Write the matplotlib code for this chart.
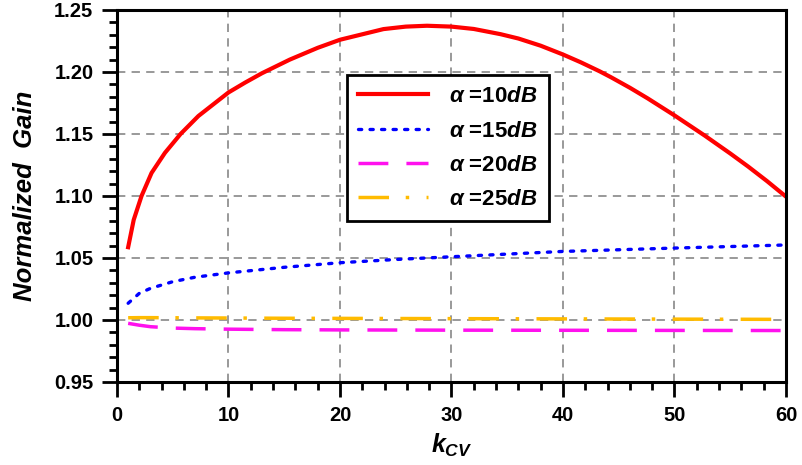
import matplotlib
matplotlib.use("Agg")
import matplotlib.pyplot as plt
from matplotlib.ticker import MultipleLocator, FormatStrFormatter

plt.rcParams['font.family'] = ['Liberation Sans', 'DejaVu Sans']
plt.rcParams['font.weight'] = 'bold'
plt.rcParams['mathtext.fontset'] = 'custom'
plt.rcParams['mathtext.it'] = 'Liberation Sans:italic:bold'
plt.rcParams['mathtext.rm'] = 'Liberation Sans:bold'
plt.rcParams['lines.scale_dashes'] = False

# normalized gain vs k_CV for several attenuation values
k_10db = [1.0, 1.5, 2.2, 3.1, 4.3, 5.7, 7.3, 10.0, 11.5, 13.0, 15.5, 18.0,
          20.0, 23.9, 25.9, 27.8, 30.0, 32.0, 34.4, 36.0, 38.0, 40.0, 41.6,
          43.3, 44.3, 46.0, 47.6, 50.0, 52.7, 55.0, 56.6, 58.3, 60.0]
g_10db = [1.0587, 1.0808, 1.100, 1.1186, 1.1348, 1.150, 1.1645, 1.1835,
          1.1915, 1.1990, 1.2100, 1.2195, 1.2260, 1.2346, 1.2366, 1.2373,
          1.2366, 1.2347, 1.2305, 1.2270, 1.2212, 1.2141, 1.2078, 1.2005,
          1.1958, 1.1873, 1.1787, 1.1650, 1.1488, 1.1343, 1.1238, 1.1120,
          1.0995]

k_low = [1, 2, 3, 5, 7, 10, 15, 20, 25, 30, 40, 50, 60]
g_15db = [1.0135, 1.0215, 1.0255, 1.0309, 1.0345, 1.0380, 1.0425, 1.0462,
          1.0488, 1.0510, 1.0553, 1.0580, 1.0605]
g_20db = [0.9973, 0.9958, 0.9946, 0.9935, 0.9930, 0.9926, 0.9922, 0.9920,
          0.9919, 0.9918, 0.9917, 0.9916, 0.9915]
g_25db = [1.0018, 1.0019, 1.0019, 1.0018, 1.0017, 1.0016, 1.0014, 1.0013,
          1.0012, 1.0011, 1.0009, 1.0007, 1.0005]

labels = [r'$\alpha$ =10$dB$', r'$\alpha$ =15$dB$',
          r'$\alpha$ =20$dB$', r'$\alpha$ =25$dB$']

fig = plt.figure(figsize=(8.03, 4.65), dpi=100)
ax = fig.add_axes([0.1457, 0.1785, 0.8331, 0.8])

ax.plot(k_10db, g_10db, color='#ff0000', lw=3.0, label=labels[0],
        solid_joinstyle='round')
ax.plot(k_low, g_15db, color='#0000ff', lw=2.4, dashes=(2.3, 6.0),
        dash_capstyle='round', label=labels[1])
ax.plot(k_low, g_20db, color='#ff11ee', lw=2.5, dashes=(21.5, 13),
        label=labels[2])
ax.plot(k_low, g_25db, color='#ffbb00', lw=2.5, dashes=(22, 12, 2.5, 12.5),
        label=labels[3])

ax.set_xlim(0, 60)
ax.set_ylim(0.95, 1.25)
ax.xaxis.set_major_locator(MultipleLocator(10))
ax.xaxis.set_minor_locator(MultipleLocator(2))
ax.yaxis.set_major_locator(MultipleLocator(0.05))
ax.yaxis.set_minor_locator(MultipleLocator(0.01))
ax.yaxis.set_major_formatter(FormatStrFormatter('%.2f'))

ax.grid(True, which='major', color='#999999', lw=1.4, dashes=(6, 4.5))
ax.set_axisbelow(True)

for s in ax.spines.values():
    s.set_linewidth(2.2)
ax.tick_params(which='major', direction='out', length=11, width=2,
               labelsize=14.5, pad=6)
ax.tick_params(which='minor', direction='out', length=6, width=2)

ax.set_xlabel(r'$k_{CV}$', fontsize=18, labelpad=5)
ax.set_ylabel('Normalized  Gain', fontsize=18.5, style='italic',
              fontweight='bold', labelpad=12)

leg = ax.legend(loc='upper left', bbox_to_anchor=(0.344, 0.825),
                borderaxespad=0, fancybox=False, edgecolor='black',
                framealpha=1, fontsize=16, handlelength=3.15,
                handletextpad=0.95, labelspacing=0.6, borderpad=0.5)
leg.get_frame().set_linewidth(2)

fig.savefig('out.png', dpi=100)
